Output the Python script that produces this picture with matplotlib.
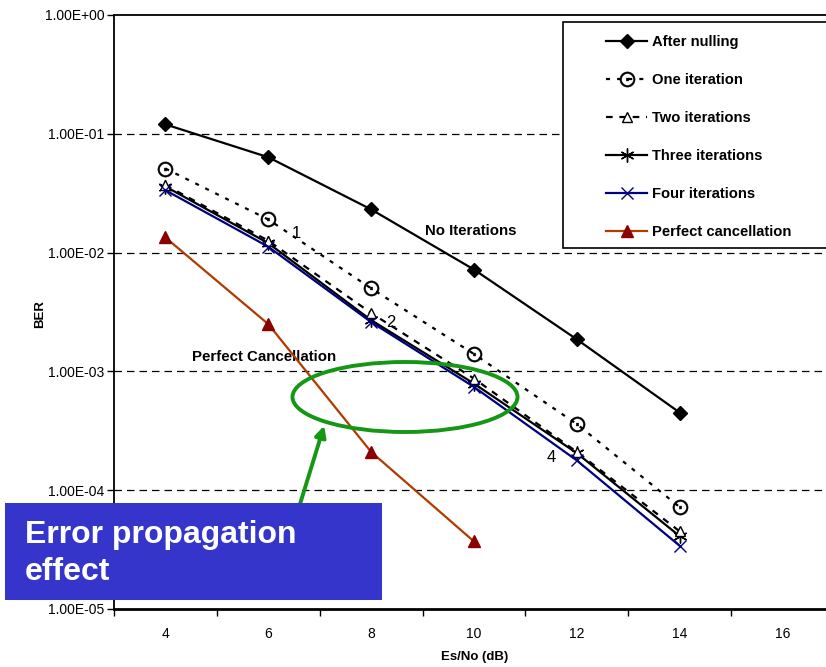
import numpy as np
import matplotlib
matplotlib.use('Agg')
import matplotlib.pyplot as plt
from matplotlib.ticker import FixedLocator, FuncFormatter, NullFormatter
from matplotlib.patches import Ellipse, Rectangle, FancyArrowPatch

plt.rcParams['font.family'] = ['Liberation Sans', 'DejaVu Sans']

# 数据
snr = [4, 6, 8, 10, 12, 14]
after_nulling = [0.12, 0.0635, 0.0231, 0.0072, 0.00186, 4.5e-4]
one_iter = [0.051, 0.019, 0.005, 0.0014, 3.6e-4, 7.2e-5]
two_iter = [0.037, 0.0126, 0.0031, 8.7e-4, 2.1e-4, 4.5e-5]
three_iter = [0.036, 0.012, 0.0027, 7.9e-4, 2.05e-4, 4.1e-5]
four_iter = [0.0335, 0.0112, 0.0026, 7.4e-4, 1.78e-4, 3.4e-5]
snr_pc = [4, 6, 8, 10]
perfect = [0.0134, 0.0025, 2.1e-4, 3.7e-5]

x_labels = [4, 6, 8, 10, 12, 14, 16]

fig = plt.figure(figsize=(8.26, 6.67), dpi=100)
ax = fig.add_axes([114 / 826, 58 / 667, 720 / 826, 594 / 667])
ax.set_yscale('log')
ax.set_xlim(3, 17)
ax.set_ylim(1e-5, 1)

# 网格线
for v in [1e-1, 1e-2, 1e-3, 1e-4]:
    ax.axhline(v, color='black', lw=0.9, ls=(0, (6, 4)), zorder=1)

lw = 1.6
ax.plot(snr, after_nulling, color='black', lw=lw, marker='D', ms=7,
        label='After nulling', zorder=5)
ax.plot(snr, one_iter, color='black', lw=lw, ls=(0, (1.8, 3.2)), marker='$\\odot$', ms=11,
        markeredgewidth=0.3, label='One iteration', zorder=4)
ax.plot(snr, two_iter, color='black', lw=lw, ls=(0, (3, 3)), marker='^', ms=7,
        mfc='white', mec='black', mew=1.0, label='Two iterations', zorder=4)
ax.plot(snr, three_iter, color='black', lw=lw, marker=(6, 2, 0), ms=10, mew=1.0,
        label='Three iterations', zorder=3)
ax.plot(snr, four_iter, color='#000080', lw=lw, marker='x', ms=8, mew=1.0,
        label='Four iterations', zorder=4)
ax.plot(snr_pc, perfect, color='#B03A00', lw=lw, marker='^', ms=9, mfc='#8B0000',
        mec='#8B0000', label='Perfect cancellation', zorder=4)

# 坐标轴刻度
ax.yaxis.set_major_locator(FixedLocator([1, 1e-1, 1e-2, 1e-3, 1e-4, 1e-5]))
ax.yaxis.set_minor_locator(FixedLocator([]))
ax.yaxis.set_major_formatter(FuncFormatter(lambda v, p: f"{v:.2E}"))
ax.tick_params(axis='y', which='major', direction='out', length=5, width=1,
               labelsize=10, pad=2)

ax.xaxis.set_major_locator(FixedLocator(list(range(3, 18, 2))))
ax.xaxis.set_major_formatter(NullFormatter())
ax.xaxis.set_minor_locator(FixedLocator(x_labels))
ax.xaxis.set_minor_formatter(FuncFormatter(lambda v, p: f"{int(v)}"))
ax.tick_params(axis='x', which='major', direction='out', length=5, width=1)
ax.tick_params(axis='x', which='minor', length=0, labelsize=10, pad=13)

for s in ['top', 'left']:
    ax.spines[s].set_linewidth(1.3)
ax.spines['bottom'].set_linewidth(2)
ax.spines['right'].set_visible(False)

fig.text(475 / 826, 1 - 657 / 667, 'Es/No (dB)', fontsize=9.5, fontweight='bold',
         ha='center', va='center')
fig.text(40 / 826, 1 - 314 / 667, 'BER', fontsize=9.5, fontweight='bold',
         ha='center', va='center', rotation=90)

# 标注
ax.text(9.05, 0.0151, 'No Iterations', fontsize=10.8, fontweight='bold', va='center')
ax.text(4.52, 1.31e-3, 'Perfect Cancellation', fontsize=10.8, fontweight='bold', va='center')
ax.text(6.54, 0.0145, '1', fontsize=12, ha='center', va='center')
ax.text(8.39, 2.57e-3, '2', fontsize=12, ha='center', va='center')
ax.text(11.5, 1.87e-4, '4', fontsize=12, ha='center', va='center')

# 图例
fig.patches.append(Rectangle((563 / 826, 1 - 248 / 667), 300 / 826, 226 / 667,
                             transform=fig.transFigure, facecolor='white',
                             edgecolor='black', lw=1.2, zorder=6))
handles, labels = ax.get_legend_handles_labels()
leg = fig.legend(handles, labels, loc='upper left',
                 bbox_to_anchor=(606 / 826, 1 - 35 / 667),
                 frameon=False, prop={'weight': 'bold', 'size': 10.6},
                 handlelength=2.8, handletextpad=0.3, labelspacing=1.63,
                 borderaxespad=0, borderpad=0)
leg.set_zorder(7)

# 绿色椭圆和箭头
fig.patches.append(Ellipse((405 / 826, 1 - 397 / 667), 225 / 826, 70 / 667,
                           transform=fig.transFigure, fill=False,
                           edgecolor='#159615', lw=2.8, zorder=8))
fig.add_artist(FancyArrowPatch(
    (292 / 826, 1 - 530 / 667), (325 / 826, 1 - 423 / 667),
    transform=fig.transFigure, arrowstyle='-|>', mutation_scale=16,
    color='#159615', lw=2.8, zorder=8))

# 蓝色文字框
fig.patches.append(Rectangle((5 / 826, 1 - 600 / 667), 377 / 826, 97 / 667,
                             transform=fig.transFigure, facecolor='#3535CC',
                             edgecolor='none', zorder=9))
fig.text(25 / 826, 1 - 535 / 667, 'Error propagation', color='white', fontsize=23,
         fontweight='bold', va='center', ha='left', zorder=10)
fig.text(25 / 826, 1 - 572 / 667, 'effect', color='white', fontsize=23,
         fontweight='bold', va='center', ha='left', zorder=10)

fig.savefig('out.png', dpi=100)
